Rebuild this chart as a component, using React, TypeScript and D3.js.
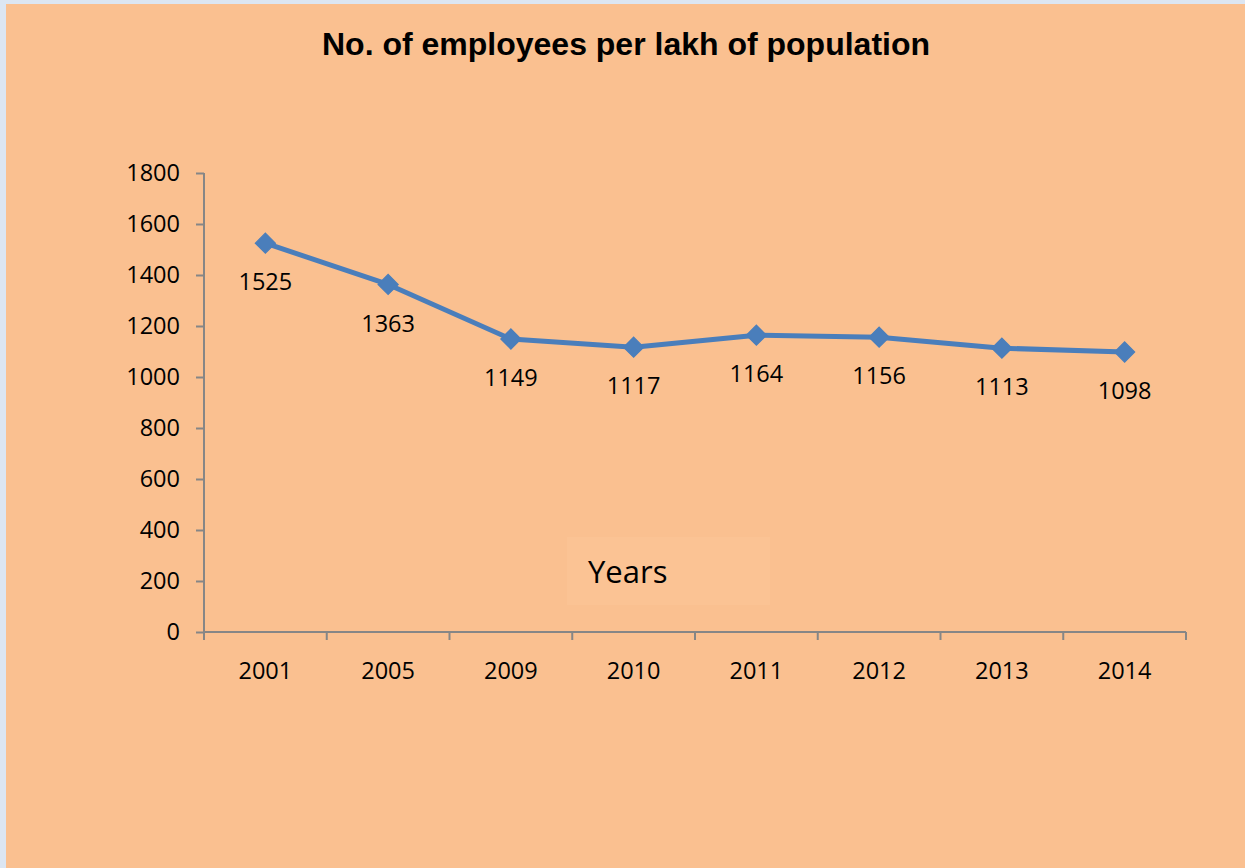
import { useRef, useEffect } from 'react'
import * as d3 from 'd3'

const years = ["2001", "2005", "2009", "2010", "2011", "2012", "2013", "2014"]
const employees = [1525, 1363, 1149, 1117, 1164, 1156, 1113, 1098]
const yTicks = [0, 200, 400, 600, 800, 1000, 1200, 1400, 1600, 1800]

const W = 1245
const H = 868

export default function App() {
  const svgRef = useRef<SVGSVGElement>(null)

  useEffect(() => {
    if (!svgRef.current) return
    const svg = d3.select(svgRef.current)
    svg.selectAll("*").remove()

    // page frame
    svg.append("rect").attr("width", W).attr("height", H).attr("fill", "#dce6f2")
    svg.append("rect").attr("x", 6).attr("y", 4).attr("width", W - 6).attr("height", H - 4).attr("fill", "#fac090")

    const left = 204, right = 1186, top = 173, bottom = 632
    const x = d3.scaleBand().domain(years).range([left, right])
    const y = d3.scaleLinear().domain([0, 1800]).range([bottom, top])
    const axisColor = "#868686"
    const font = "'Open Sans', sans-serif"
    const fs = 23.5

    // title
    svg.append("text")
      .attr("x", 626).attr("y", 55)
      .attr("text-anchor", "middle")
      .attr("font-family", "'Liberation Sans', Arial, sans-serif")
      .attr("font-weight", "bold")
      .attr("font-size", 32)
      .attr("fill", "#000")
      .text("No. of employees per lakh of population")

    // "Years" box
    svg.append("rect")
      .attr("x", 567).attr("y", 537).attr("width", 203).attr("height", 68)
      .attr("fill", "#fbc394")
    svg.append("text")
      .attr("x", 588).attr("y", 583)
      .attr("font-family", font)
      .attr("font-size", 31)
      .attr("fill", "#000")
      .text("Years")

    // y axis
    const yAxis = svg.append("g")
      .attr("transform", `translate(${left},0)`)
      .call(d3.axisLeft(y).tickValues(yTicks).tickFormat(d3.format("d")).tickSize(8).tickPadding(16))
    yAxis.select(".domain").attr("stroke", axisColor).attr("stroke-width", 2)
      .attr("d", `M0,${top}V${bottom}`)
    yAxis.selectAll(".tick line").attr("stroke", axisColor).attr("stroke-width", 2)
    yAxis.selectAll(".tick text")
      .attr("font-family", font).attr("font-size", fs).attr("fill", "#000")

    // x axis
    const xAxis = svg.append("g")
      .attr("transform", `translate(0,${bottom})`)
      .call(d3.axisBottom(x).tickSize(0).tickPadding(30))
    xAxis.select(".domain").attr("stroke", axisColor).attr("stroke-width", 2)
      .attr("d", `M${left},0H${right}`)
    xAxis.selectAll(".tick text")
      .attr("font-family", font).attr("font-size", fs).attr("fill", "#000")
    const bounds = years.map(d => x(d) || 0).concat([right])
    xAxis.selectAll("line.sep")
      .data(bounds)
      .enter()
      .append("line")
      .attr("class", "sep")
      .attr("x1", d => d).attr("x2", d => d)
      .attr("y1", 0).attr("y2", 8)
      .attr("stroke", axisColor).attr("stroke-width", 2)

    const cx = (d: string) => (x(d) || 0) + x.bandwidth() / 2

    // line
    const line = d3.line<number>()
      .x((_, i) => cx(years[i]))
      .y(d => y(d))
    svg.append("path")
      .datum(employees)
      .attr("d", line)
      .attr("fill", "none")
      .attr("stroke", "#4a7ebb")
      .attr("stroke-width", 5)
      .attr("stroke-linejoin", "round")

    // diamond markers
    svg.selectAll("path.marker")
      .data(employees)
      .enter()
      .append("path")
      .attr("class", "marker")
      .attr("d", d3.symbol(d3.symbolDiamond2, 150)())
      .attr("transform", (d, i) => `translate(${cx(years[i])},${y(d)}) scale(1.3,1.3)`)
      .attr("fill", "#4a7ebb")
      .attr("stroke", "#4a7ebb")
      .attr("stroke-width", 1)

    // data labels
    svg.selectAll("text.lbl")
      .data(employees)
      .enter()
      .append("text")
      .attr("class", "lbl")
      .attr("x", (d, i) => cx(years[i]))
      .attr("y", d => y(d) + 39)
      .attr("dy", "0.35em")
      .attr("text-anchor", "middle")
      .attr("font-family", font)
      .attr("font-size", fs)
      .attr("fill", "#000")
      .text(d => String(d))
  }, [])

  return (
    <svg
      ref={svgRef}
      width={W}
      height={H}
      style={{ position: 'absolute', left: 0, top: 0, display: 'block' }}
    />
  )
}
